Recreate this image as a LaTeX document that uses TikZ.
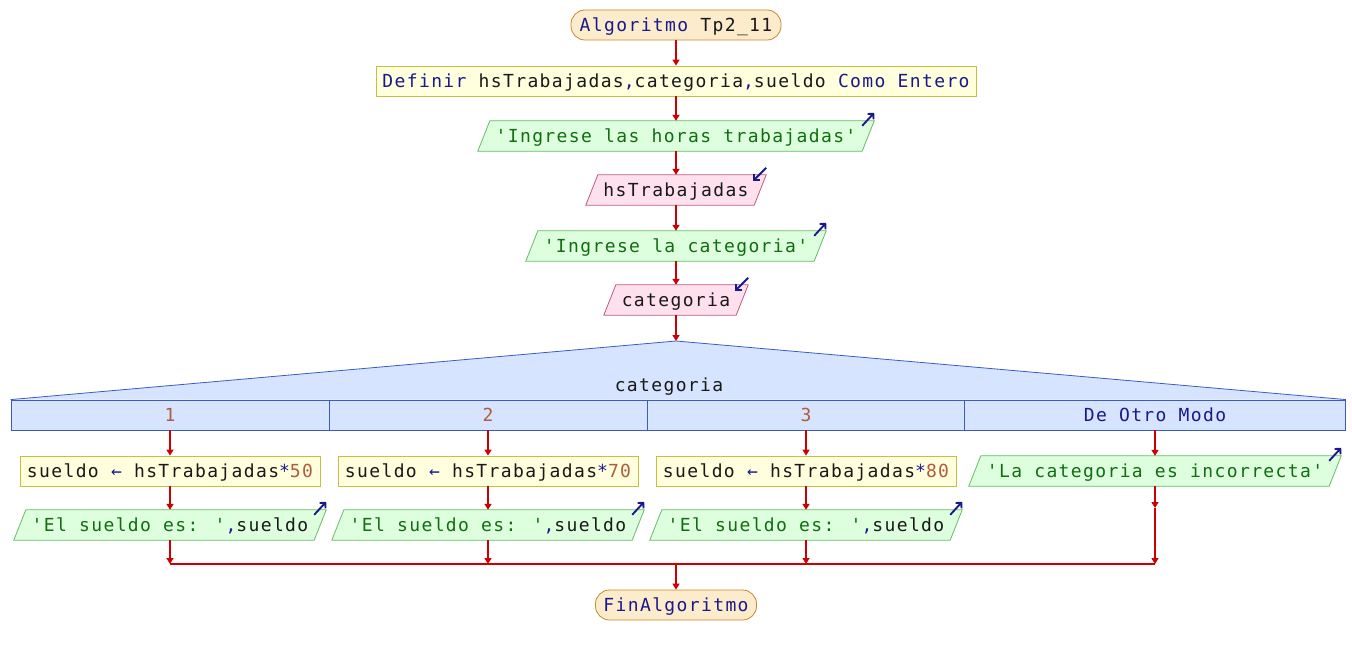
\documentclass[tikz,border=0pt]{standalone}
\usepackage{fontspec}
\newfontfamily\fcmono{DejaVu Sans Mono}[LetterSpace=7.6]
\usetikzlibrary{arrows.meta,backgrounds}
\definecolor{kwnavy}{RGB}{25,25,140}
\definecolor{txblack}{RGB}{25,25,25}
\definecolor{txgreen}{RGB}{16,110,16}
\definecolor{txbrown}{RGB}{176,92,60}
\definecolor{flowred}{RGB}{204,0,0}
\definecolor{termfill}{RGB}{253,236,204}
\definecolor{termdraw}{RGB}{200,136,48}
\definecolor{procfill}{RGB}{255,255,221}
\definecolor{procdraw}{RGB}{200,190,70}
\definecolor{outfill}{RGB}{222,255,222}
\definecolor{outdraw}{RGB}{100,190,100}
\definecolor{infill}{RGB}{255,225,238}
\definecolor{indraw}{RGB}{190,90,130}
\definecolor{swfill}{RGB}{214,228,255}
\definecolor{swdraw}{RGB}{60,90,200}
\newcommand\nv[1]{\textcolor{kwnavy}{#1}}
\newcommand\nb[1]{\textcolor{txbrown}{#1}}
\newcommand\paradraw[3]{%
  \begin{pgfonlayer}{background}
  \draw[fill=#2,draw=#3,line width=0.8pt]
    ([xshift=-6pt]#1.south west) -- ([xshift=6pt]#1.north west) --
    ([xshift=6pt]#1.north east) -- ([xshift=-6pt]#1.south east) -- cycle;
  \end{pgfonlayer}}
\newcommand\outicon[1]{\draw[kwnavy,line width=1.9pt,-{Straight Barb[length=4pt,width=8pt]}]
    ([xshift=-6pt,yshift=-5pt]#1.north east) -- ([xshift=6pt,yshift=8pt]#1.north east);}
\newcommand\inicon[1]{\draw[kwnavy,line width=1.9pt,-{Straight Barb[length=4pt,width=8pt]}]
    ([xshift=6pt,yshift=7pt]#1.north east) -- ([xshift=-7pt,yshift=-6pt]#1.north east);}
\begin{document}
\begin{tikzpicture}[x=1pt,y=-1pt,
  every node/.style={font=\fcmono\fontsize{18}{20}\selectfont,inner sep=0pt,
    minimum height=30pt,text height=13pt,text depth=0pt,text=txblack},
  terminal/.style={draw=termdraw,fill=termfill,line width=0.8pt,rounded corners=14pt},
  procbox/.style={draw=procdraw,fill=procfill,line width=0.8pt},
  outbox/.style={text=txgreen},
  inbox/.style={},
  casebox/.style={draw=swdraw,fill=swfill,line width=0.8pt},
  flow/.style={draw=flowred,line width=1.6pt,-{Triangle[width=7pt,length=6pt]}},
  flowline/.style={draw=flowred,line width=1.6pt}]
\begin{pgfonlayer}{background}
\fill[white] (0,0) rectangle (1352,655);
\end{pgfonlayer}
\useasboundingbox (0,0) rectangle (1352,655);

\node[terminal,minimum width=210pt] (start) at (676,25) {\nv{Algoritmo} Tp2\_11};
\node[procbox,minimum width=600pt] (def) at (676,81)
  {\nv{Definir} hsTrabajadas\nv{,}categoria\nv{,}sueldo \nv{Como Entero}};
\node[outbox,minimum width=384pt] (o1) at (676,136) {'Ingrese las horas trabajadas'};
\paradraw{o1}{outfill}{outdraw}
\node[inbox,minimum width=168pt] (i1) at (676,190) {hsTrabajadas};
\paradraw{i1}{infill}{indraw}
\node[outbox,minimum width=288pt] (o2) at (676,246) {'Ingrese la categoria'};
\paradraw{o2}{outfill}{outdraw}
\node[inbox,minimum width=132pt] (i2) at (676,300) {categoria};
\paradraw{i2}{infill}{indraw}

\coordinate (apex) at (676,341);
\node[casebox,minimum width=318pt] (c1) at (170,415) {\nb{1}};
\node[casebox,minimum width=318pt] (c2) at (488,415) {\nb{2}};
\node[casebox,minimum width=318pt] (c3) at (806,415) {\nb{3}};
\node[casebox,minimum width=381pt] (c4) at (1155,415) {\nv{De Otro Modo}};
\begin{pgfonlayer}{background}
\fill[swfill] (c1.north west) -- (apex) -- (c4.north east) -- cycle;
\draw[swdraw,line width=0.8pt] (c1.north west) -- (apex) -- (c4.north east);
\end{pgfonlayer}
\node (sw) at (669,385) {categoria};

\node[procbox,minimum width=300pt] (a1) at (170,471) {sueldo \nv{←} hsTrabajadas\nv{*}\nb{50}};
\node[procbox,minimum width=300pt] (a2) at (488,471) {sueldo \nv{←} hsTrabajadas\nv{*}\nb{70}};
\node[procbox,minimum width=300pt] (a3) at (806,471) {sueldo \nv{←} hsTrabajadas\nv{*}\nb{80}};
\node[outbox,minimum width=360pt] (o4) at (1155,471) {'La categoria es incorrecta'};
\paradraw{o4}{outfill}{outdraw}

\node[outbox,minimum width=300pt] (p1) at (170,525) {'El sueldo es: '\nv{,}\textcolor{txblack}{sueldo}};
\paradraw{p1}{outfill}{outdraw}
\node[outbox,minimum width=300pt] (p2) at (488,525) {'El sueldo es: '\nv{,}\textcolor{txblack}{sueldo}};
\paradraw{p2}{outfill}{outdraw}
\node[outbox,minimum width=300pt] (p3) at (806,525) {'El sueldo es: '\nv{,}\textcolor{txblack}{sueldo}};
\paradraw{p3}{outfill}{outdraw}

\coordinate (e4) at (1155,508);
\coordinate (m1) at (170,564);
\coordinate (m2) at (488,564);
\coordinate (m3) at (806,564);
\coordinate (m4) at (1155,564);
\coordinate (mc) at (676,564);

\node[terminal,minimum width=161pt] (fin) at (676,605) {\nv{FinAlgoritmo}};

\outicon{o1}
\outicon{o2}
\outicon{o4}
\outicon{p1}
\outicon{p2}
\outicon{p3}
\inicon{i1}
\inicon{i2}

\draw[flow] (start) -- (def);
\draw[flow] (def) -- (o1);
\draw[flow] (o1) -- (i1);
\draw[flow] (i1) -- (o2);
\draw[flow] (o2) -- (i2);
\draw[flow] (i2) -- (apex);
\draw[flow] (c1) -- (a1);
\draw[flow] (c2) -- (a2);
\draw[flow] (c3) -- (a3);
\draw[flow] (c4) -- (o4);
\draw[flow] (a1) -- (p1);
\draw[flow] (a2) -- (p2);
\draw[flow] (a3) -- (p3);
\draw[flow] (o4) -- (e4);
\draw[flow] (p1) -- (m1);
\draw[flow] (p2) -- (m2);
\draw[flow] (p3) -- (m3);
\draw[flow] (e4) -- (m4);
\draw[flowline] (m1) -- (m4);
\draw[flow] (mc) -- (fin);
\end{tikzpicture}
\end{document}
